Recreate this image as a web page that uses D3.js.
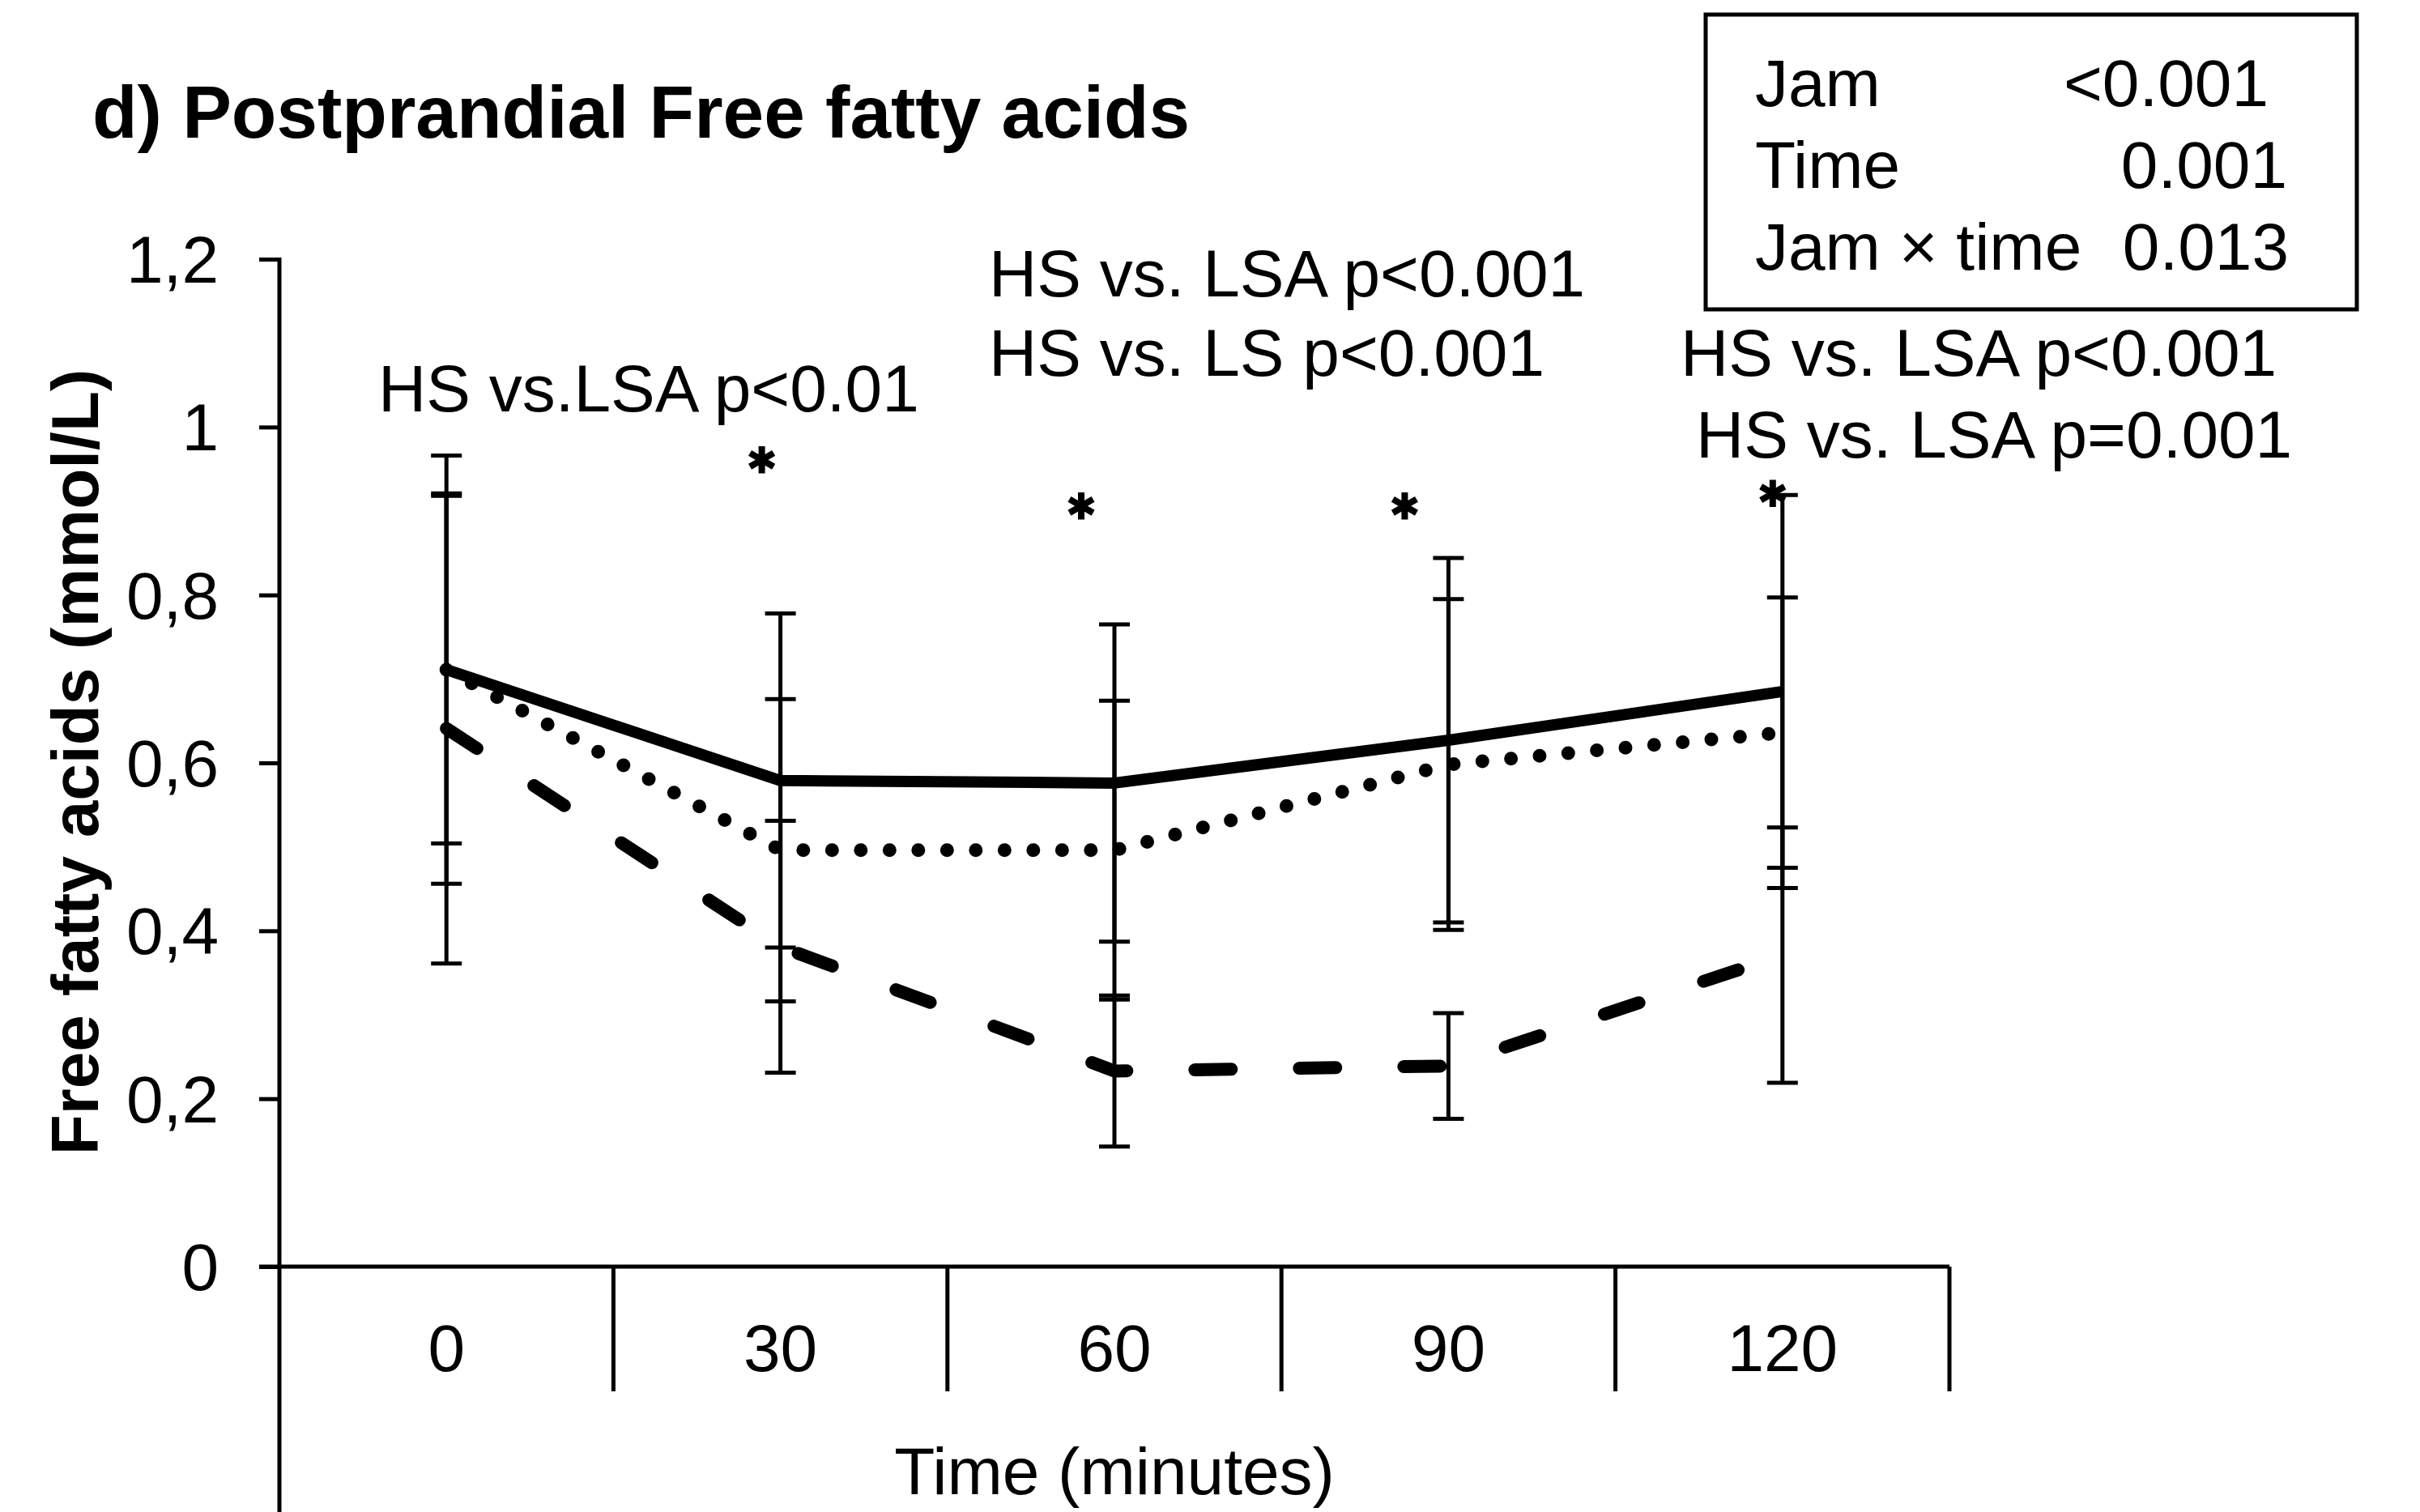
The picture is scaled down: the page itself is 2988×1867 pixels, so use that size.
<!DOCTYPE html>
<html>
<head>
<meta charset="utf-8">
<script src="https://cdn.jsdelivr.net/npm/d3@7"></script>
<style>
  body { margin: 0; background: #fff; }
  text { font-family: "Liberation Sans", Arial, sans-serif; fill: #000; }
</style>
</head>
<body>
<script>
// time points (minutes)
let times = ['0', '30', '60', '90', '120']

// mean and SD per jam
let hsMean = [0.711, 0.579, 0.576, 0.627, 0.685]
let hsSd = [0.255, 0.199, 0.189, 0.217, 0.234]
let lsMean = [0.711, 0.496, 0.496, 0.598, 0.636]
let lsSd = [0.207, 0.180, 0.178, 0.197, 0.161]
let lsaMean = [0.641, 0.381, 0.233, 0.239, 0.371]
let lsaSd = [0.280, 0.150, 0.090, 0.063, 0.152]

let yTicks = [0, 0.2, 0.4, 0.6, 0.8, 1, 1.2]
let yTickLabels = ['0', '0,2', '0,4', '0,6', '0,8', '1', '1,2']

// significance stars: time point and height (mmol/L)
let starTimes = ['30', '60', '90', '120']
let starValues = [0.961, 0.906, 0.906, 0.921]

let anova = ['Jam', 'Time', 'Jam \u00d7 time']
let anovaP = ['<0.001', '0.001', '0.013']

let notes = [
  'HS vs.LSA p<0.01',
  'HS vs. LSA p<0.001',
  'HS vs. LS p<0.001',
  'HS vs. LSA p<0.001',
  'HS vs. LSA p=0.001'
]

let width = 2988, height = 1867
let plot = { left: 345, right: 2407, top: 320, bottom: 1564 }

let svg = d3.select('body').append('svg')
  .attr('width', width)
  .attr('height', height)

let x = d3.scaleBand().domain(times).range([plot.left, plot.right])
let y = d3.scaleLinear().domain([0, 1.2]).range([plot.bottom, plot.top])
let cx = (t) => x(t) + x.bandwidth() / 2

// y axis
let yAxis = d3.axisLeft(y)
  .tickValues(yTicks)
  .tickFormat((d, i) => yTickLabels[i])
  .tickSize(25)
  .tickPadding(50)

let gy = svg.append('g')
  .attr('transform', `translate(${plot.left},0)`)
  .call(yAxis)
gy.select('.domain').remove()
gy.selectAll('.tick line').attr('stroke', '#000').attr('stroke-width', 5)
gy.selectAll('.tick text')
  .attr('font-size', 82)
  .attr('font-family', '"Liberation Sans", Arial, sans-serif')
  .attr('dy', null)
  .attr('dominant-baseline', 'central')

svg.append('line')
  .attr('x1', plot.left).attr('x2', plot.left)
  .attr('y1', plot.top - 2).attr('y2', height)
  .attr('stroke', '#000').attr('stroke-width', 5)

// x axis with category dividers
svg.append('line')
  .attr('x1', plot.left - 25).attr('x2', plot.right)
  .attr('y1', plot.bottom).attr('y2', plot.bottom)
  .attr('stroke', '#000').attr('stroke-width', 5)

svg.selectAll('.divider').data(times).enter()
  .append('line')
  .attr('class', 'divider')
  .attr('x1', (d) => x(d) + x.bandwidth()).attr('x2', (d) => x(d) + x.bandwidth())
  .attr('y1', plot.bottom).attr('y2', 1718)
  .attr('stroke', '#000').attr('stroke-width', 5)

svg.selectAll('.xlabel').data(times).enter()
  .append('text')
  .attr('class', 'xlabel')
  .attr('x', cx)
  .attr('y', 1693)
  .attr('text-anchor', 'middle')
  .attr('font-size', 82)
  .text((d) => d)

svg.append('text')
  .attr('x', (plot.left + plot.right) / 2)
  .attr('y', 1845)
  .attr('text-anchor', 'middle')
  .attr('font-size', 82)
  .text('Time (minutes)')

svg.append('text')
  .attr('transform', `translate(121,${(plot.top + plot.bottom) / 2 - 1}) rotate(-90)`)
  .attr('text-anchor', 'middle')
  .attr('font-size', 82)
  .attr('font-weight', 'bold')
  .text('Free fatty acids (mmol/L)')

svg.append('text')
  .attr('x', 114)
  .attr('y', 170)
  .attr('font-size', 91)
  .attr('font-weight', 'bold')
  .text('d) Postprandial Free fatty acids')

// series
let series = [
  { mean: hsMean, sd: hsSd, width: 14, dash: null, cap: 'butt' },
  { mean: lsMean, sd: lsSd, width: 17, dash: '0 35.5', cap: 'round' },
  { mean: lsaMean, sd: lsaSd, width: 16, dash: '45 84', cap: 'round' }
]

let line = d3.line()
  .x((d) => cx(d.t))
  .y((d) => y(d.v))

series.forEach(function (s) {
  let pts = times.map((t, i) => ({ t: t, v: s.mean[i], sd: s.sd[i] }))

  let g = svg.append('g')
  g.selectAll('.bar').data(pts).enter()
    .append('line')
    .attr('x1', (d) => cx(d.t)).attr('x2', (d) => cx(d.t))
    .attr('y1', (d) => y(d.v - d.sd)).attr('y2', (d) => y(d.v + d.sd))
    .attr('stroke', '#000').attr('stroke-width', 5)

  g.selectAll('.cap').data(pts.flatMap((d) => [
    { t: d.t, v: d.v - d.sd }, { t: d.t, v: d.v + d.sd }
  ])).enter()
    .append('line')
    .attr('x1', (d) => cx(d.t) - 19).attr('x2', (d) => cx(d.t) + 19)
    .attr('y1', (d) => y(d.v)).attr('y2', (d) => y(d.v))
    .attr('stroke', '#000').attr('stroke-width', 5)

  g.append('path')
    .datum(pts)
    .attr('d', line)
    .attr('fill', 'none')
    .attr('stroke', '#000')
    .attr('stroke-width', s.width)
    .attr('stroke-linecap', s.cap)
    .attr('stroke-linejoin', 'round')
    .attr('stroke-dasharray', s.dash)
})

// stars, drawn as six-armed asterisk symbols
let starNudge = [-23, -41, -54, -12]
let star = d3.symbol().type(d3.symbolAsterisk).size(800)
svg.selectAll('.star').data(starTimes).enter()
  .append('path')
  .attr('class', 'star')
  .attr('transform', (d, i) => `translate(${cx(d) + starNudge[i]},${y(starValues[i])})`)
  .attr('d', star)
  .attr('fill', 'none')
  .attr('stroke', '#000')
  .attr('stroke-width', 8)

// comparison notes
let notePos = [[467, 508], [1221, 366], [1221, 464], [2075, 464], [2094, 565]]
svg.selectAll('.note').data(notes).enter()
  .append('text')
  .attr('x', (d, i) => notePos[i][0])
  .attr('y', (d, i) => notePos[i][1])
  .attr('font-size', 82)
  .text((d) => d)

// ANOVA box
svg.append('rect')
  .attr('x', 2106).attr('y', 18)
  .attr('width', 804).attr('height', 364)
  .attr('fill', 'none')
  .attr('stroke', '#000').attr('stroke-width', 5)

let pRight = [2801, 2824, 2826]
anova.forEach(function (name, i) {
  svg.append('text')
    .attr('x', 2167)
    .attr('y', 131 + i * 101)
    .attr('font-size', 82)
    .text(name)
  svg.append('text')
    .attr('x', pRight[i])
    .attr('y', 131 + i * 101)
    .attr('text-anchor', 'end')
    .attr('font-size', 82)
    .text(anovaP[i])
})
</script>
</body>
</html>
